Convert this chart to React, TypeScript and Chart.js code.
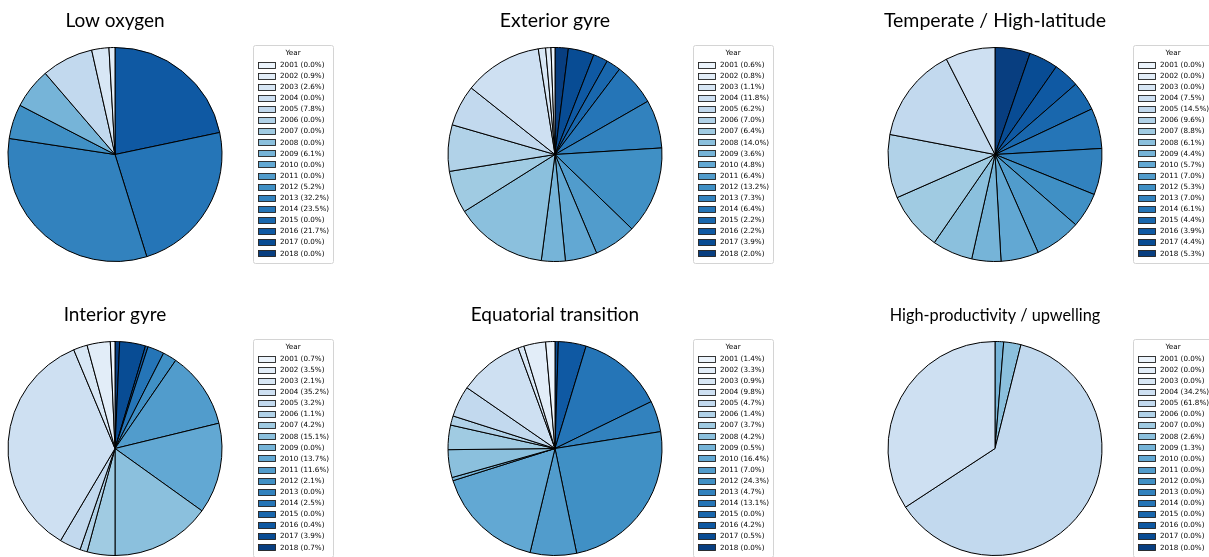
import { useEffect, useRef } from 'react';
import { Chart, registerables } from 'chart.js';

Chart.register(...registerables);

// Survey years shown in every legend
const years = [
  '2001', '2002', '2003', '2004', '2005', '2006', '2007', '2008', '2009',
  '2010', '2011', '2012', '2013', '2014', '2015', '2016', '2017', '2018',
];

// Share of samples per year (%) for each province
const lowOxygen = [0.0, 0.9, 2.6, 0.0, 7.8, 0.0, 0.0, 0.0, 6.1, 0.0, 0.0, 5.2, 32.2, 23.5, 0.0, 21.7, 0.0, 0.0];
const exteriorGyre = [0.6, 0.8, 1.1, 11.8, 6.2, 7.0, 6.4, 14.0, 3.6, 4.8, 6.4, 13.2, 7.3, 6.4, 2.2, 2.2, 3.9, 2.0];
const temperate = [0.0, 0.0, 0.0, 7.5, 14.5, 9.6, 8.8, 6.1, 4.4, 5.7, 7.0, 5.3, 7.0, 6.1, 4.4, 3.9, 4.4, 5.3];
const interiorGyre = [0.7, 3.5, 2.1, 35.2, 3.2, 1.1, 4.2, 15.1, 0.0, 13.7, 11.6, 2.1, 0.0, 2.5, 0.0, 0.4, 3.9, 0.7];
const equatorial = [1.4, 3.3, 0.9, 9.8, 4.7, 1.4, 3.7, 4.2, 0.5, 16.4, 7.0, 24.3, 4.7, 13.1, 0.0, 4.2, 0.5, 0.0];
const upwelling = [0.0, 0.0, 0.0, 34.2, 61.8, 0.0, 0.0, 2.6, 1.3, 0.0, 0.0, 0.0, 0.0, 0.0, 0.0, 0.0, 0.0, 0.0];

// Sequential blue palette, light (2001) to dark (2018)
const blues = [
  '#ecf4fc', '#e2edf8', '#d8e7f5', '#cee0f2', '#c2d9ee', '#b1d2e8',
  '#a0cbe2', '#8bc0dd', '#76b4d8', '#62a8d3', '#519ccc', '#4090c5',
  '#3282be', '#2575b7', '#1967ad', '#0f59a3', '#084c94', '#083e80',
];

const panels = [
  { title: 'Low oxygen', titleSize: 19, values: lowOxygen },
  { title: 'Exterior gyre', titleSize: 19.5, values: exteriorGyre },
  { title: 'Temperate / High-latitude', titleSize: 19.5, values: temperate },
  { title: 'Interior gyre', titleSize: 19, values: interiorGyre },
  { title: 'Equatorial transition', titleSize: 19, values: equatorial },
  { title: 'High-productivity / upwelling', titleSize: 16.3, values: upwelling },
];

const PANEL_W = 440;
const PANEL_H = 294;
const CANVAS_H = 300;

// pie geometry inside a panel
const PIE_CX = 115;
const PIE_CY = 154.5;
const PIE_R = 107;

// legend geometry inside a panel
const LEG_X = 253;
const LEG_Y = 45.5;
const LEG_H = 218;
const LEG_TITLE_Y = 53;
const LEG_ROW0 = 64.5;
const LEG_ROW_STEP = 11.1;
const LEG_FONT = '7.2px "DejaVu Sans"';

function makeDecor(title: string, titleSize: number, values: number[]) {
  return {
    id: 'panelDecor',
    afterDraw(chart: Chart) {
      const ctx = chart.ctx;
      ctx.save();

      // panel title
      ctx.font = `${titleSize}px Lato`;
      ctx.fillStyle = '#000';
      ctx.textAlign = 'center';
      ctx.textBaseline = 'alphabetic';
      ctx.fillText(title, PIE_CX, 27);

      // legend
      ctx.font = LEG_FONT;
      const labels = years.map((y, i) => `${y} (${values[i].toFixed(1)}%)`);
      const textX = LEG_X + 27;
      const maxW = Math.max(...labels.map((l) => ctx.measureText(l).width));
      const legW = textX - LEG_X + maxW + 4;

      ctx.beginPath();
      ctx.roundRect(LEG_X + 0.5, LEG_Y, legW, LEG_H, 2);
      ctx.fillStyle = '#ffffff';
      ctx.fill();
      ctx.strokeStyle = '#d4d4d4';
      ctx.lineWidth = 1;
      ctx.stroke();

      ctx.fillStyle = '#000';
      ctx.textAlign = 'center';
      ctx.textBaseline = 'middle';
      ctx.fillText('Year', LEG_X + legW / 2, LEG_TITLE_Y);

      ctx.textAlign = 'left';
      labels.forEach((label, i) => {
        const cy = LEG_ROW0 + i * LEG_ROW_STEP;
        const sx = LEG_X + 5.5;
        const sy = Math.round(cy - 3) + 0.5;
        ctx.fillStyle = blues[i];
        ctx.fillRect(sx, sy, 17, 6);
        ctx.strokeStyle = '#222';
        ctx.lineWidth = 0.9;
        ctx.strokeRect(sx, sy, 17, 6);
        ctx.fillStyle = '#000';
        ctx.fillText(label, textX, cy + 0.5);
      });

      ctx.restore();
    },
  };
}

function PiePanel({
  title,
  titleSize,
  values,
  left,
  top,
}: {
  title: string;
  titleSize: number;
  values: number[];
  left: number;
  top: number;
}) {
  const ref = useRef<HTMLCanvasElement | null>(null);

  useEffect(() => {
    if (!ref.current) return;
    // slices run counter-clockwise from 12 o'clock in year order,
    // i.e. clockwise in reverse year order
    const data = [...values].reverse();
    const colors = [...blues].reverse();
    const labels = [...years].reverse();
    const chart = new Chart(ref.current, {
      type: 'pie',
      data: {
        labels,
        datasets: [
          {
            data,
            backgroundColor: colors,
            borderColor: '#000',
            borderWidth: 1,
            borderJoinStyle: 'round',
          },
        ],
      },
      options: {
        responsive: false,
        animation: false,
        devicePixelRatio: 1,
        layout: {
          padding: {
            left: PIE_CX - PIE_R - 0.5,
            top: PIE_CY - PIE_R - 0.5,
            right: PANEL_W - (PIE_CX + PIE_R + 0.5),
            bottom: CANVAS_H - (PIE_CY + PIE_R + 0.5),
          },
        },
        plugins: {
          legend: { display: false },
          title: { display: false },
          tooltip: { enabled: false },
        },
      },
      plugins: [makeDecor(title, titleSize, values)],
    });
    return () => chart.destroy();
  }, [title, titleSize, values]);

  return (
    <canvas
      ref={ref}
      width={PANEL_W}
      height={CANVAS_H}
      style={{ position: 'absolute', left, top, width: PANEL_W, height: CANVAS_H }}
    />
  );
}

export default function App() {
  return (
    <div
      style={{
        position: 'absolute',
        left: 0,
        top: 0,
        width: 1209,
        height: 557,
        overflow: 'hidden',
        background: '#ffffff',
      }}
    >
      {panels.map((p, i) => (
        <PiePanel
          key={p.title}
          title={p.title}
          titleSize={p.titleSize}
          values={p.values}
          left={(i % 3) * PANEL_W}
          top={Math.floor(i / 3) * PANEL_H}
        />
      ))}
    </div>
  );
}
